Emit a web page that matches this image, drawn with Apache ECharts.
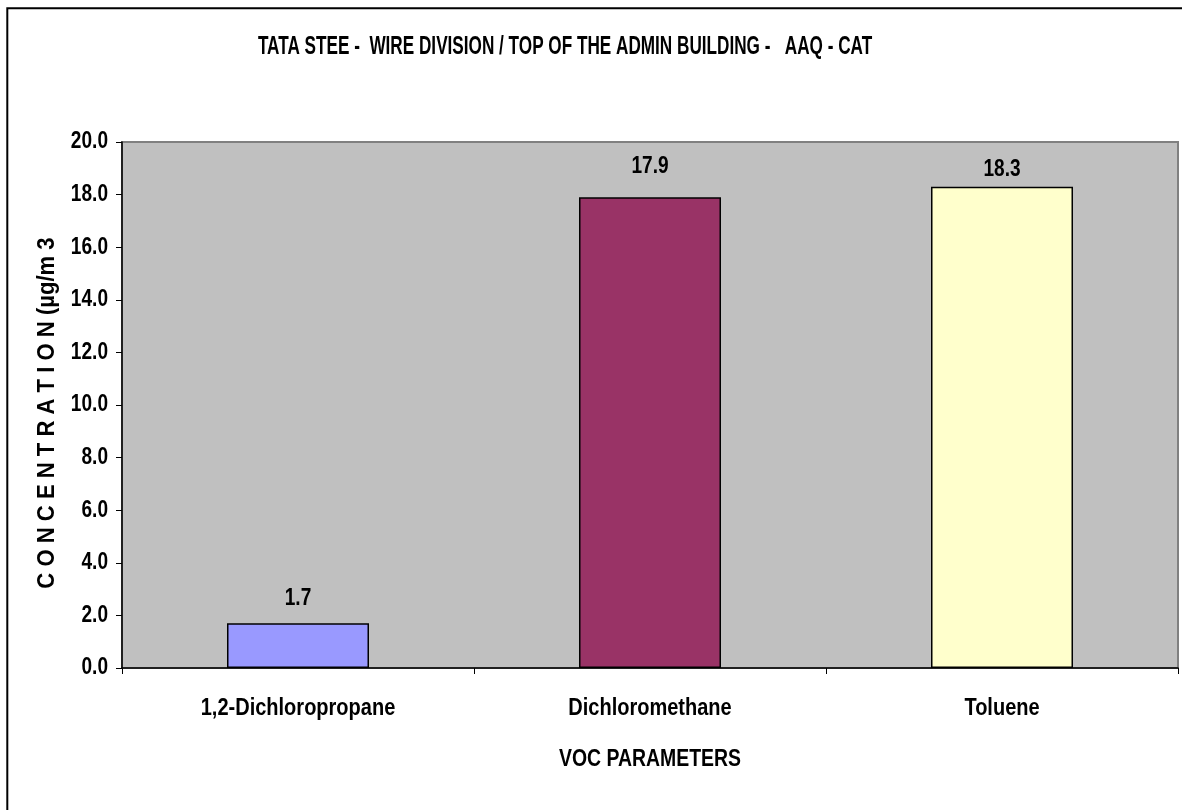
<!DOCTYPE html>
<html>
<head>
<meta charset="utf-8">
<script src="https://cdn.jsdelivr.net/npm/echarts@6/dist/echarts.min.js"></script>
<style>
html,body{margin:0;padding:0;background:#fff;}
#chart{width:1182px;height:810px;}
</style>
</head>
<body>
<div id="chart"></div>
<script>
const categories = ['1,2-Dichloropropane', 'Dichloromethane', 'Toluene'];
const values = [1.7, 17.9, 18.3];
const barColors = ['#9999FF', '#993366', '#FFFFCC'];
const yTickValues = [0, 2, 4, 6, 8, 10, 12, 14, 16, 18, 20];
const titleText = 'TATA STEE -  WIRE DIVISION / TOP OF THE ADMIN BUILDING -   AAQ - CAT';
const yAxisTitle = 'C O N C E N T R A T I O N (µg/m 3';
const xAxisTitle = 'VOC PARAMETERS';

const FONT = '"Liberation Sans", Arial, sans-serif';
const chart = echarts.init(document.getElementById('chart'));

chart.setOption({
  animation: false,
  backgroundColor: '#ffffff',
  grid: {
    left: 122, top: 142, right: 4, bottom: 142,
    show: true, backgroundColor: '#C0C0C0', borderColor: '#808080', borderWidth: 2
  },
  xAxis: {
    type: 'category',
    data: categories,
    axisLine: { lineStyle: { color: '#000', width: 1.5 } },
    axisTick: { show: true, length: 6, lineStyle: { color: '#000' } },
    axisLabel: { show: false },
    splitLine: { show: false }
  },
  yAxis: {
    type: 'value',
    min: yTickValues[0], max: yTickValues[yTickValues.length - 1],
    interval: yTickValues[1] - yTickValues[0],
    axisLine: { show: true, lineStyle: { color: '#000', width: 1.5 } },
    axisTick: { show: true, length: 6, lineStyle: { color: '#000' } },
    axisLabel: { show: false },
    splitLine: { show: false }
  },
  series: [{
    type: 'bar',
    data: values.map((v, i) => ({ value: v, itemStyle: { color: barColors[i] } })),
    barWidth: 142,
    itemStyle: { borderColor: '#000', borderWidth: 1.5 },
    label: { show: false }
  }]
});

// condensed bold text drawn as real text, positioned via the chart's own scales
function txt(text, x, y, size, sx, align, vAlign, rot) {
  return {
    type: 'text', x: x, y: y, scaleX: sx, rotation: rot || 0, silent: true, z: 100,
    style: { text: text, fontFamily: FONT, fontWeight: 'bold', fontSize: size,
             fill: '#000', align: align, verticalAlign: vAlign }
  };
}
const px = i => chart.convertToPixel({ xAxisIndex: 0 }, categories[i]);
const py = v => chart.convertToPixel({ yAxisIndex: 0 }, v);

const els = [];
els.push({
  type: 'rect', silent: true, z: 0,
  shape: { x: 7.3, y: 8.3, width: 1300, height: 900 },
  style: { fill: 'none', stroke: '#000', lineWidth: 2 }
});
els.push(txt(titleText, 565, 47, 26, 0.66, 'center', 'middle'));
yTickValues.forEach(v => els.push(txt(v.toFixed(1), 108, py(v), 23, 0.83, 'right', 'middle')));
categories.forEach((c, i) => els.push(txt(c, px(i), 709, 23, 0.87, 'center', 'middle')));
els.push(txt(xAxisTitle, (px(0) + px(2)) / 2, 759, 24, 0.81, 'center', 'middle'));
els.push(txt(yAxisTitle, 47, (py(0) + py(20)) / 2 + 8, 24, 0.92, 'center', 'middle', Math.PI / 2));
const labelOffsets = [25, 31, 17];
values.forEach((v, i) => els.push(txt(v.toFixed(1), px(i), py(v) - labelOffsets[i], 23, 0.83, 'center', 'middle')));

chart.setOption({ graphic: { elements: els } });
</script>
</body>
</html>
